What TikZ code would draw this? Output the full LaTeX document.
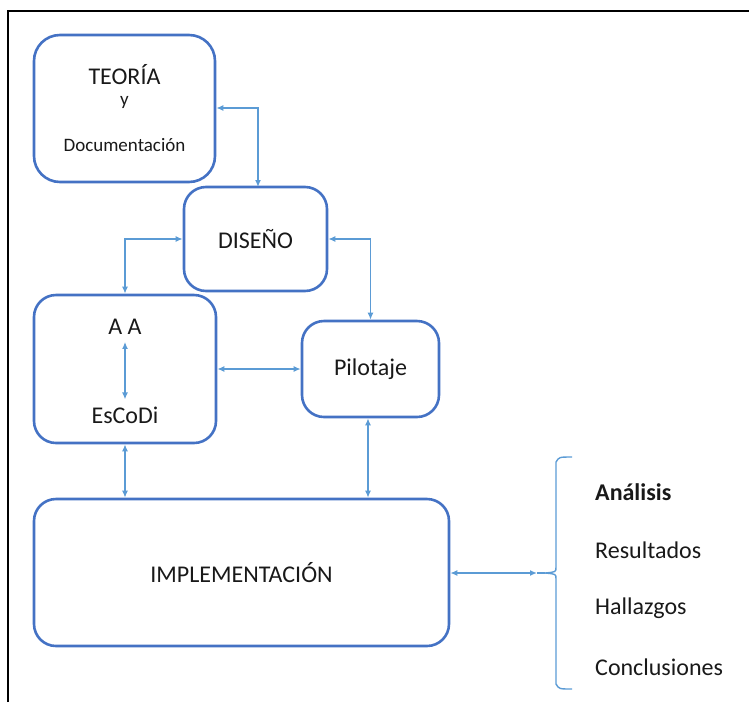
\documentclass[tikz,border=0pt]{standalone}
\usepackage{fontspec}
\setmainfont{Carlito}
\usetikzlibrary{arrows.meta}
\definecolor{boxblue}{RGB}{68,114,196}
\definecolor{linkblue}{RGB}{91,155,213}
\definecolor{ink}{RGB}{25,25,25}
\begin{document}
\begin{tikzpicture}[x=1pt,y=-1pt,
  box/.style={draw=boxblue, line width=2.6pt, rounded corners=22pt, text=ink,
    font=\fontsize{24}{27}\selectfont, inner sep=0pt},
  conn/.style={draw=linkblue, line width=1.4pt,
    {Latex[length=7pt,width=6pt]}-{Latex[length=7pt,width=6pt]}},
  txt/.style={text=ink, font=\fontsize{24}{27}\selectfont, inner sep=0pt},
  smalltxt/.style={text=ink, font=\fontsize{19}{22}\selectfont, inner sep=0pt},
  listtxt/.style={text=ink, font=\fontsize{24}{27}\selectfont, inner sep=0pt, anchor=west}]
\useasboundingbox (0,0) rectangle (749,702);

% page frame (top and left edges)
\draw[line width=1.8pt] (8,702) -- (8,11) -- (749,11);

% boxes
\node[box, minimum width=181pt, minimum height=147pt, rounded corners=26pt] (teo) at (124.5,108.5) {};
\node[txt] (teot) at (124.5,75) {TEORÍA};
\node[smalltxt] (teoy) at (124.5,102) {y};
\node[smalltxt] (teod) at (124.5,145) {Documentación};

\node[box, minimum width=143pt, minimum height=104pt] (dis) at (255.5,239) {DISEÑO};

\node[box, minimum width=182pt, minimum height=148pt] (aab) at (125,369) {};
\node[txt] (aa) at (125,327) {A A};
\node[txt] (esc) at (125,415) {EsCoDi};

\node[box, minimum width=137pt, minimum height=96pt] (pil) at (370.5,369) {Pilotaje};

\node[box, minimum width=415pt, minimum height=147pt] (imp) at (241.5,572.5) {IMPLEMENTACIÓN};

% connectors
\draw[conn] (teo.east |- 0,108) -| (258,187);
\draw[conn] (dis.west) -| (aab.north);
\draw[conn] (dis.east) -| (pil.north);
\draw[conn] (aab.east |- 0,369) -- (pil.west |- 0,369);
\draw[conn] ([yshift=-7pt]aa.south) -- ([yshift=7pt]esc.north);
\draw[conn] (aab.south) -- (aab.south |- imp.north);
\draw[conn] (pil.south -| 368,0) -- (368,0 |- imp.north);

% results brace
\coordinate (tip) at (545,573);
\coordinate (arrend) at (537,573);
\draw[conn] (imp.east |- 0,573) -- (arrend);
\draw[draw=linkblue, line width=1.4pt] (arrend) -- (tip);
\draw[draw=linkblue, line width=1.4pt]
  (572,457) .. controls (559,457) .. (556,462) -- (556,567)
  .. controls (556,572) .. (tip) .. controls (556,574) .. (556,579)
  -- (556,684) .. controls (559,689) .. (572,689);

\node[listtxt, font=\fontsize{24}{27}\selectfont\bfseries] (ana) at (595,492) {Análisis};
\node[listtxt] (res) at (595,550) {Resultados};
\node[listtxt] (hal) at (595,608) {Hallazgos};
\node[listtxt] (con) at (595,667) {Conclusiones};
\end{tikzpicture}
\end{document}
